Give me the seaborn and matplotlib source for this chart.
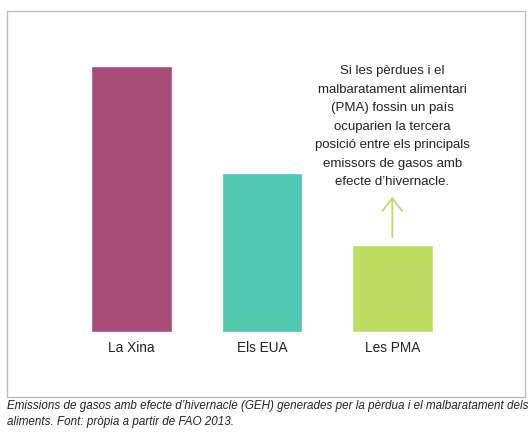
import pandas as pd
import seaborn as sns
import matplotlib.pyplot as plt
from matplotlib.patches import Rectangle

# Data (Gt CO2 eq.)
categories = ['La Xina', 'Els EUA', 'Les PMA']
emissions = [10.7, 6.4, 3.5]
bar_colors = ['#A84D78', '#50C8B0', '#BEDB62']

note = ("Si les pèrdues i el\nmalbaratament alimentari\n(PMA) fossin un país\n"
        "ocuparien la tercera\nposició entre els principals\n"
        "emissors de gasos amb\nefecte d’hivernacle.")
caption = ("Emissions de gasos amb efecte d’hivernacle (GEH) generades per la pèrdua i el malbaratament dels\n"
           "aliments. Font: pròpia a partir de FAO 2013.")

df = pd.DataFrame({'pais': categories, 'geh': emissions})

sns.set_style('white')
plt.rcParams['font.family'] = ['Liberation Sans', 'DejaVu Sans']

W, H = 531, 435
fig = plt.figure(figsize=(W / 100, H / 100), dpi=100)

# frame around the chart
fig.patches.append(Rectangle((7 / W, 1 - 398 / H), 518 / W, 386 / H,
                             transform=fig.transFigure, fill=False,
                             edgecolor='#bdbdbd', linewidth=1.0))

# axes: baseline at y=333px, bars centred at 131.5 / 262 / 392 px
x0 = 66.5 / W
x1 = 457.5 / W
y0 = 1 - 333 / H
ytop_px = 30
ax = fig.add_axes([x0, y0, x1 - x0, (333 - ytop_px) / H])
ymax = emissions[0] * (333 - ytop_px) / (333 - 67)

sns.barplot(data=df, x='pais', y='geh', hue='pais', palette=bar_colors,
            width=0.62, saturation=1, legend=False, ax=ax)
ax.set_xlim(-0.5, 2.5)
ax.set_ylim(0, ymax)
ax.set_xlabel('')
ax.set_ylabel('')
ax.set_yticks([])
ax.tick_params(axis='x', length=0, pad=6, labelsize=9.8, labelcolor='#222222')
sns.despine(ax=ax, left=True, bottom=True)

# annotation + arrow above the PMA bar
ax.text(2, 8.3, note, ha='center', va='center', fontsize=9.5,
        color='#222222', linespacing=1.72)
ax.annotate('', xy=(2, 5.55), xytext=(2, 3.7),
            arrowprops=dict(arrowstyle='->,head_length=0.45,head_width=0.35',
                            color='#BEDB62', lw=1.3, mutation_scale=20))

fig.text(7 / W, 1 - 414 / H, caption, ha='left', va='center', fontsize=8.4,
         style='italic', color='#222222', linespacing=1.45)

fig.savefig('out.png', dpi=100)
